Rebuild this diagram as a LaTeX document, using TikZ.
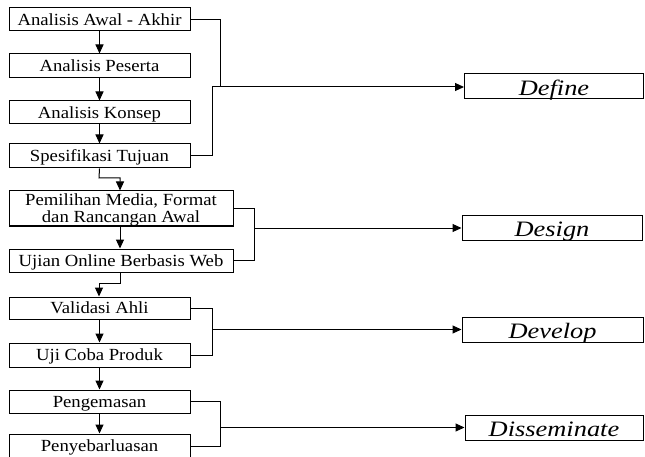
\documentclass[tikz,border=0pt]{standalone}
\usepackage{fontspec}
\setmainfont{Liberation Serif}[FakeStretch=1.1]
\newfontfamily\stagefont{Liberation Serif}[FakeStretch=1.2]
\usetikzlibrary{arrows.meta}
\begin{document}
\begin{tikzpicture}[x=1pt,y=-1pt,
  box/.style={draw, line width=1pt, inner sep=0pt, minimum width=181pt, minimum height=23pt, font=\fontsize{17}{17}\selectfont, text height=13pt, text depth=1.8pt},
  widebox/.style={box, minimum width=224pt},
  twobox/.style={draw, line width=1pt, inner sep=0pt, minimum width=224pt, minimum height=35pt, font=\fontsize{17}{17}\selectfont, align=center},
  stagebox/.style={draw, line width=1pt, inner sep=0pt, minimum width=179pt, minimum height=25pt, font=\stagefont\itshape\fontsize{22}{22}\selectfont, text height=19pt, text depth=1.5pt},
  conn/.style={line width=1pt},
  arr/.style={conn, -{Triangle[length=9pt,width=8pt]}}]
\useasboundingbox (0,0) rectangle (645,457);
\clip (0,0) rectangle (645,457);
% left column
\node[box] (b1) at (99.5,19.5) {Analisis Awal - Akhir};
\node[box, minimum height=24pt] (b2) at (99.5,66) {Analisis Peserta};
\node[box] (b3) at (99.5,112.5) {Analisis Konsep};
\node[box, minimum height=24pt] (b4) at (99.5,156) {Spesifikasi Tujuan};
\node[twobox] (b5) at (121,208.5) {\raisebox{-2pt}[\height][\depth]{\begin{tabular}{@{}c@{}}Pemilihan Media, Format\\dan Rancangan Awal\end{tabular}}};
\node[widebox] (b6) at (121,260.5) {Ujian Online Berbasis Web};
\node[box, minimum height=22pt] (b7) at (99.5,308) {Validasi Ahli};
\node[box, minimum height=24pt] (b8) at (99.5,355) {Uji Coba Produk};
\node[box] (b9) at (99.5,401.5) {Pengemasan};
\node[box, minimum height=24pt] (b10) at (99.5,446) {Penyebarluasan};
% stages
\node[stagebox] (define) at (554,86.5) {Define};
\node[stagebox, minimum width=180pt, minimum height=24pt] (design) at (552,228) {Design};
\node[stagebox, minimum width=181pt] (develop) at (552.5,329.5) {Develop};
\node[stagebox, minimum width=178pt] (dissem) at (554,427.5) {Disseminate};
% vertical arrows
\draw[arr] (b1.south) -- (b2.north);
\draw[arr] (b2.south) -- (b3.north);
\draw[arr] (b3.south) -- (b4.north);
\coordinate (k1) at (99,178);
\coordinate (k2) at (120,178);
\draw[arr] (b4.south) -- (k1) -- (k2) -- (k2 |- b5.north);
\draw[arr] (b5.south -| 120,0) -- (b6.north -| 120,0);
\coordinate (k3) at (120,283);
\coordinate (k4) at (99,283);
\draw[arr] (b6.south -| k3) -- (k3) -- (k4) -- (k4 |- b7.north);
\draw[arr] (b7.south) -- (b8.north);
\draw[arr] (b8.south) -- (b9.north);
\draw[arr] (b9.south) -- (b10.north);
% Define bracket
\coordinate (d1) at (220,19.5);
\coordinate (d2) at (220,87);
\coordinate (d3) at (212,156);
\coordinate (d4) at (212,87);
\draw[conn] (b1.east) -- (d1) -- (d2);
\draw[arr] (b4.east) -- (d3) -- (d4) -- (define.west |- d4);
% Design bracket
\coordinate (e1) at (254,208.5);
\coordinate (e2) at (254,260.5);
\coordinate (e3) at (254,228);
\draw[conn] (b5.east) -- (e1) -- (e2) -- (b6.east);
\draw[arr] (e3) -- (design.west);
% Develop bracket
\coordinate (f1) at (212,308);
\coordinate (f2) at (212,355);
\coordinate (f3) at (212,329.5);
\draw[conn] (b7.east) -- (f1) -- (f2) -- (b8.east);
\draw[arr] (f3) -- (develop.west);
% Disseminate bracket
\coordinate (g1) at (220,401.5);
\coordinate (g2) at (220,446);
\coordinate (g3) at (220,427.5);
\draw[conn] (b9.east) -- (g1) -- (g2) -- (b10.east);
\draw[arr] (g3) -- (dissem.west);
\end{tikzpicture}
\end{document}
